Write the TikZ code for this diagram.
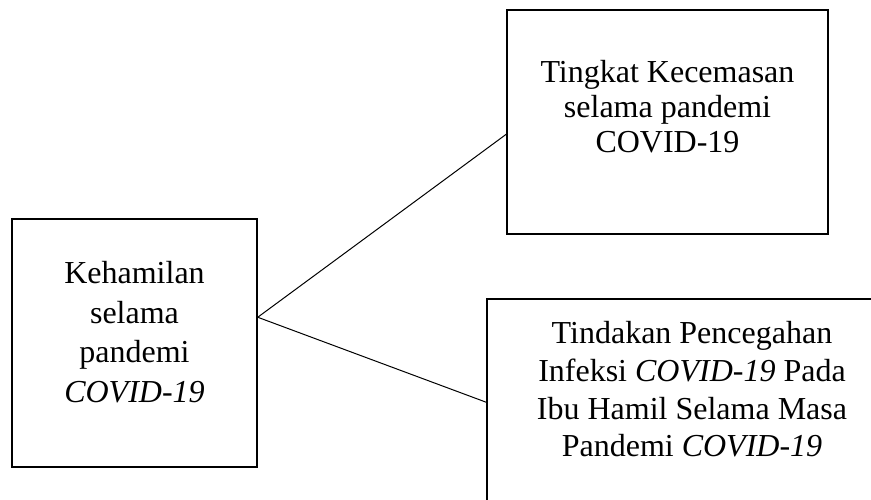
\documentclass[tikz,border=0pt]{standalone}
\usepackage{fontspec}
\setmainfont{Liberation Serif}
\usetikzlibrary{calc}
\begin{document}
\begin{tikzpicture}[x=1pt,y=-1pt,
  box/.style={draw, line width=1.5pt, inner sep=0pt},
  lbl/.style={inner sep=0pt, align=center, anchor=north},
  conn/.style={line width=1pt}]
\useasboundingbox (0,0) rectangle (871,500);
\clip (0,0) rectangle (871,500);
% boxes
\node[box, minimum width=245pt, minimum height=248pt] (kb) at (134.5,343) {};
\node[box, minimum width=321pt, minimum height=224pt] (tb) at (667.5,122) {};
\node[box, minimum width=401pt, minimum height=221pt] (bb) at (687.5,409.5) {};
% texts
\node[lbl, font=\fontsize{32}{39.7}\selectfont] (kt) at (134.5,261)
  {Kehamilan\\selama\\pandemi\\\textit{COVID-19}};
\node[lbl, font=\fontsize{32}{35.2}\selectfont] (tt) at (667.5,60)
  {Tingkat Kecemasan\\selama pandemi\\COVID-19};
\node[lbl, font=\fontsize{32}{37.8}\selectfont] (bt) at (692,321)
  {Tindakan Pencegahan\\Infeksi \textit{COVID-19} Pada\\Ibu Hamil Selama Masa\\Pandemi \textit{COVID-19}};
% connectors
\coordinate (ka) at ($(kb.north east)+(0,99)$);
\coordinate (ta) at ($(tb.north west)+(0,125)$);
\coordinate (ba) at ($(bb.north west)+(0,104)$);
\draw[conn] (ka) -- (ta);
\draw[conn] (ka) -- (ba);
\end{tikzpicture}
\end{document}
